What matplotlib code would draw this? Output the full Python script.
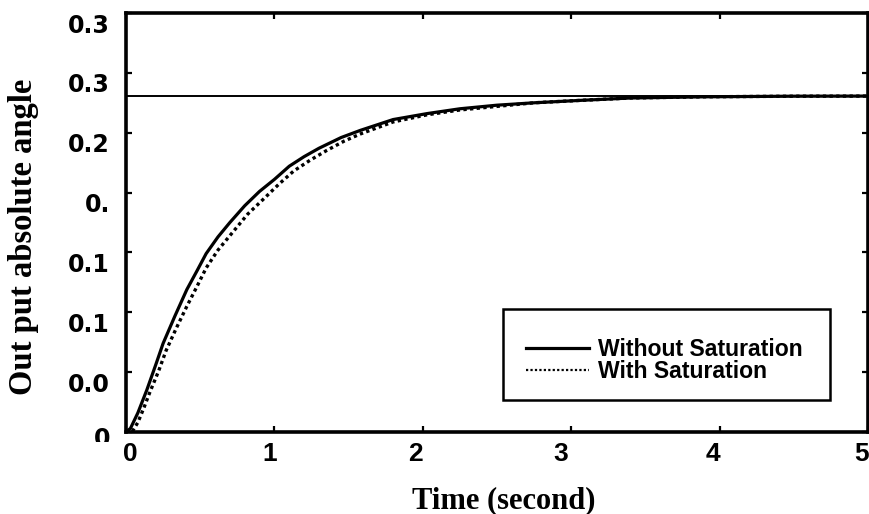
import matplotlib
matplotlib.use("Agg")
import matplotlib.pyplot as plt
from matplotlib.patches import Rectangle
from matplotlib.transforms import ScaledTranslation, Bbox, TransformedBbox

# step response of the output angle, read at uneven times
t_nosat = [0, 0.03, 0.08, 0.14, 0.20, 0.25, 0.33, 0.41, 0.48, 0.54, 0.62, 0.70,
           0.80, 0.90, 1.00, 1.10, 1.20, 1.30, 1.45, 1.58, 1.80, 2.03, 2.25,
           2.50, 2.75, 3.06, 3.40, 3.90, 4.50, 5.00]
y_nosat = [0, 0.003, 0.016, 0.035, 0.056, 0.074, 0.097, 0.119, 0.135, 0.149,
           0.163, 0.175, 0.189, 0.201, 0.211, 0.222, 0.230, 0.237, 0.246,
           0.252, 0.261, 0.266, 0.270, 0.273, 0.275, 0.277, 0.279, 0.280,
           0.2805, 0.2806]

t_sat = [0, 0.04, 0.08, 0.12, 0.16, 0.22, 0.27, 0.34, 0.41, 0.48, 0.54, 0.62,
         0.72, 0.82, 0.93, 1.03, 1.13, 1.24, 1.35, 1.47, 1.58, 1.80, 2.03,
         2.25, 2.50, 2.75, 3.06, 3.40, 3.90, 4.50, 5.00]
y_sat = [0, 0.000, 0.008, 0.020, 0.033, 0.051, 0.068, 0.087, 0.105, 0.122,
         0.137, 0.152, 0.167, 0.182, 0.195, 0.207, 0.218, 0.227, 0.235,
         0.243, 0.249, 0.259, 0.265, 0.269, 0.272, 0.275, 0.277, 0.279,
         0.280, 0.2805, 0.2806]

reference = 0.2806

x_ticks = [0, 1, 2, 3, 4, 5]
y_ticks = [0, 0.05, 0.10, 0.15, 0.20, 0.25, 0.30, 0.35]
y_ticklabels = ["0", "0.0", "0.1", "0.1", "0.", "0.2", "0.3", "0.3"]

fig = plt.figure(figsize=(8.7, 5.14), dpi=100)
ax = fig.add_axes([126 / 870, 1 - 432 / 514, 742 / 870, 419 / 514])

ax.axhline(reference, color="black", lw=1.4)
ax.plot(t_nosat, y_nosat, color="black", lw=2.3, label="Without Saturation")
ax.plot(t_sat, y_sat, color="black", lw=2.4, linestyle=(0, (1, 1)),
        label="With Saturation")

ax.set_xlim(0, 5)
ax.set_ylim(0, 0.35)

for s in ax.spines.values():
    s.set_linewidth(2.6)

ax.tick_params(direction="in", length=4.5, width=1.6, top=True, right=True)
ax.tick_params(axis="y", pad=11.5)
ax.tick_params(axis="x", pad=7)

ax.set_xticks(x_ticks)
ax.set_xticklabels([str(v) for v in x_ticks], fontfamily="Liberation Sans",
                   fontweight="bold", fontsize=19)
ax.set_yticks(y_ticks)
ax.set_yticklabels(y_ticklabels, fontfamily="DejaVu Sans",
                   fontweight="bold", fontsize=17)

# y labels sit a little below their ticks; x labels drift left
y_shift = [-0.045, -0.10, -0.10, -0.10, -0.10, -0.10, -0.10, -0.10]
for lbl, dy in zip(ax.get_yticklabels(), y_shift):
    lbl.set_transform(lbl.get_transform()
                      + ScaledTranslation(0, dy, fig.dpi_scale_trans))
x_shift = [0.04, -0.05, -0.07, -0.10, -0.07, -0.06]
for lbl, dx in zip(ax.get_xticklabels(), x_shift):
    lbl.set_transform(lbl.get_transform()
                      + ScaledTranslation(dx, 0, fig.dpi_scale_trans))

# lower half of the bottom y label is hidden
bottom = ax.get_yticklabels()[0]
bottom.set_clip_on(True)
bottom.set_clip_box(TransformedBbox(Bbox([[0, 1 - 442 / 514], [1, 1]]),
                                    fig.transFigure))

# legend box drawn separately so the entries can sit low inside it
ax.add_patch(Rectangle((0.5077, 32 / 419), 327 / 742, 91 / 419,
                       transform=ax.transAxes, facecolor="white",
                       edgecolor="black", lw=1.8, zorder=4))
leg = ax.legend(loc="upper left", bbox_to_anchor=(0.5077, 0.2793),
                frameon=False, borderpad=1.0,
                handlelength=2.75, handletextpad=0.4, labelspacing=-0.05,
                borderaxespad=0,
                prop={"family": "Liberation Sans", "weight": "bold",
                      "size": 16.6})
leg.set_zorder(5)
leg.get_lines()[1].set_linewidth(1.6)

fig.text(504 / 870, 1 - 508 / 514, "Time (second)", ha="center",
         va="baseline", fontfamily="Liberation Serif", fontweight="bold",
         fontsize=22)
fig.text(24 / 870, 1 - 237 / 514, "Out put absolute angle", rotation=90,
         ha="center", va="center", fontfamily="Liberation Serif",
         fontweight="bold", fontsize=23.5)

fig.savefig("out.png", dpi=100)
